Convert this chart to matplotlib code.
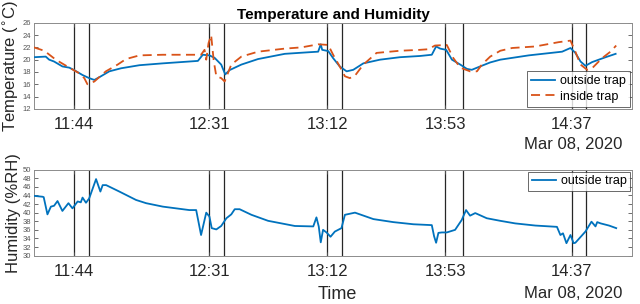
import pandas as pd
import matplotlib
matplotlib.use("Agg")
import matplotlib.pyplot as plt
import matplotlib.dates as mdates

plt.rcParams['font.family'] = ['Liberation Sans', 'DejaVu Sans']

# time axis: minutes after 11:30 on Mar 08, 2020
start = pd.Timestamp("2020-03-08 11:30")
x_min, x_max = "11:30", "14:58"

# trap opened / closed (vertical lines)
event_start = ["11:44", "12:31", "13:12", "13:53", "14:37"]
event_end = ["11:49", "12:36", "13:17", "13:59", "14:42"]

# temperature outside trap
t_out = [0, 4.1, 5.3, 7, 9.9, 12.3, 14, 16.9, 19.2, 21, 23.3, 26.2, 30.3, 36.7, 44.8, 54, 57, 58.7, 61, 62.8,
         65.1, 66.5, 68, 72.1, 77.9, 87.2, 95.3, 98.8, 99.7, 100.2, 102.3, 104, 106.3, 108.7, 111, 114.5, 120.3,
         127.2, 134.2, 138.3, 139.8, 141.2, 143.3, 145.3, 148.2, 150.5, 152.2, 155.1, 158.6, 162.1, 172, 183.6,
         186.5, 188.2, 190, 191.7, 194, 198.7, 202.2]
temp_out = [20.4, 20.5, 20.0, 19.7, 18.9, 18.7, 18.3, 17.5, 17.0, 16.7, 17.3, 18.1, 18.6, 19.1, 19.4, 19.7, 19.8,
            20.8, 20.7, 20.3, 19.2, 17.6, 18.3, 19.2, 20.1, 20.95, 21.2, 21.3, 22.5, 21.6, 21.4, 20.25, 18.9, 18.1,
            18.35, 19.4, 20.0, 20.4, 20.6, 20.8, 22.15, 21.8, 21.6, 20.0, 19.2, 18.5, 18.35, 18.9, 19.55, 20.0,
            20.7, 21.3, 21.9, 21.1, 19.7, 19.0, 19.6, 20.4, 20.95]

# temperature inside trap
t_in = [0, 3.6, 7.6, 12.3, 15.7, 17.5, 18.6, 21, 25, 29.1, 32, 36.7, 44.8, 54, 58.1, 59.3, 59.9, 60.7, 61.6, 62.5,
        63.4, 65.1, 66.3, 68.6, 72.1, 77.9, 87.2, 93, 98.8, 102.3, 104, 106.3, 108.1, 109.8, 111.6, 114.5, 119.1,
        127.2, 134.2, 137.1, 139.4, 143.5, 145.8, 148.2, 151.6, 154, 155.7, 158.6, 162.1, 166.2, 174.3, 182.4,
        186.5, 188.2, 190, 192.3, 194, 197.5, 200.4, 202.4]
temp_in = [22.0, 21.45, 20.0, 18.7, 17.8, 17.0, 16.0, 16.45, 18.1, 19.2, 20.1, 20.7, 20.8, 20.8, 20.8, 21.6, 20.0,
           22.7, 24.0, 19.8, 17.3, 17.0, 16.45, 19.2, 20.5, 21.3, 21.8, 22.0, 22.5, 22.4, 20.8, 18.9, 17.3, 17.0,
           17.4, 19.2, 21.1, 21.45, 21.6, 21.7, 22.3, 22.4, 20.25, 18.7, 18.1, 18.1, 19.2, 20.5, 21.45, 21.9,
           22.15, 22.85, 23.1, 21.3, 19.2, 18.35, 18.6, 20.25, 21.3, 22.3]

# humidity outside trap
t_hum = [0, 3, 3.4, 4.7, 5.9, 7, 8.2, 9.9, 12, 13.4, 15.2, 16.3, 16.9, 18.1, 19.2, 21.6, 23.1, 23.9, 25.1, 29.7,
         35.5, 39, 44.8, 54, 56.4, 58.1, 59.9, 61, 61.8, 63.4, 65.1, 66.9, 68.6, 69.8, 71.5, 75.6, 81.4, 90.7,
         97.1, 98.2, 99, 99.7, 100.5, 101.7, 103.1, 104.6, 106.9, 108.1, 111.6, 118, 124.9, 131.9, 138.3, 139.1,
         139.8, 140.6, 141.8, 143.5, 146.4, 148.7, 150.2, 151.6, 153.4, 157.4, 162.1, 167.3, 174.3, 181.8, 183,
         183.9, 185.1, 186.5, 187.6, 188.2, 191.7, 193.8, 195.2, 195.8, 197, 199.9, 202.4]
hum_out = [43.9, 43.7, 43.6, 39.6, 41.4, 41.6, 42.7, 40.4, 42.2, 41.0, 42.6, 42.4, 43.5, 42.3, 43.3, 47.8, 44.9,
           46.4, 46.4, 44.9, 42.95, 42.2, 41.4, 40.6, 40.6, 34.8, 40.0, 39.1, 36.4, 36.1, 36.9, 38.7, 39.6, 40.8,
           40.8, 39.5, 38.1, 36.9, 36.8, 38.9, 36.8, 33.1, 36.0, 35.4, 34.4, 35.6, 36.4, 39.5, 40.0, 38.5, 37.8,
           37.3, 37.1, 34.5, 33.0, 35.3, 35.4, 35.4, 36.0, 38.3, 40.6, 39.3, 39.9, 38.7, 38.1, 37.5, 37.0, 36.7,
           34.8, 35.2, 32.9, 34.8, 32.9, 33.0, 35.6, 37.9, 36.8, 37.8, 37.5, 37.0, 36.4]

BLUE = '#0072BD'
ORANGE = '#D95319'


def to_time(minutes):
    return (start + pd.to_timedelta(minutes, unit='min')).to_pydatetime()


def clock(hhmm):
    return pd.Timestamp("2020-03-08 " + hhmm).to_pydatetime()


def style_axis(ax, ylim, yticks):
    for e in event_start + event_end:
        ax.axvline(clock(e), color='#262626', lw=0.9, zorder=1)
    ax.set_xlim(clock(x_min), clock(x_max))
    ax.set_ylim(*ylim)
    ax.set_yticks(yticks)
    ax.set_xticks([clock(e) for e in event_start])
    ax.xaxis.set_major_formatter(mdates.DateFormatter('%H:%M'))
    ax.tick_params(axis='y', direction='in', length=3, labelsize=5.5, labelcolor='#555555',
                   right=True, color='#555555', width=0.6, pad=2)
    ax.tick_params(axis='x', direction='in', length=3, labelsize=12, labelcolor='#262626',
                   top=True, color='#555555', width=0.6, pad=6)
    for s in ax.spines.values():
        s.set_color('#8c8c8c')
        s.set_linewidth(0.7)


def style_legend(leg):
    leg.get_frame().set_edgecolor('#262626')
    leg.get_frame().set_linewidth(0.6)


fig = plt.figure(figsize=(6.4, 3.04), dpi=100)
ax1 = fig.add_axes([0.053, 0.642, 0.935, 0.283])
ax2 = fig.add_axes([0.053, 0.159, 0.935, 0.283])

ax1.plot(to_time(t_out), temp_out, color=BLUE, lw=1.3, label='outside trap', zorder=3)
ax1.plot(to_time(t_in), temp_in, color=ORANGE, lw=1.3, ls=(0, (5, 3)), label='inside trap', zorder=3)
style_axis(ax1, (12, 26), range(12, 27, 2))
ax1.set_ylabel('Temperature ($^{\\circ}$C)', fontsize=12, color='#262626', labelpad=1)
ax1.set_title('Temperature and Humidity', fontsize=11, fontweight='bold', pad=3)
style_legend(ax1.legend(loc='lower right', fontsize=9, frameon=True, fancybox=False, borderaxespad=0.15,
                        handlelength=1.9, handletextpad=0.4, borderpad=0.35, labelspacing=0.25))
ax1.text(0.983, -0.42, 'Mar 08, 2020', transform=ax1.transAxes, ha='right', va='center',
         fontsize=12, color='#262626')

ax2.plot(to_time(t_hum), hum_out, color=BLUE, lw=1.3, label='outside trap', zorder=3)
style_axis(ax2, (30, 50), range(30, 51, 2))
ax2.set_ylabel('Humidity (%RH)', fontsize=12, color='#262626', labelpad=1)
style_legend(ax2.legend(loc='upper right', fontsize=9, frameon=True, fancybox=False, borderaxespad=0.15,
                        handlelength=1.9, handletextpad=0.4, borderpad=0.3))
ax2.text(0.983, -0.434, 'Mar 08, 2020', transform=ax2.transAxes, ha='right', va='center',
         fontsize=12, color='#262626')
ax2.text(0.507, -0.45, 'Time', transform=ax2.transAxes, ha='center', va='center',
         fontsize=13, color='#262626')

fig.savefig('out.png', dpi=100)
